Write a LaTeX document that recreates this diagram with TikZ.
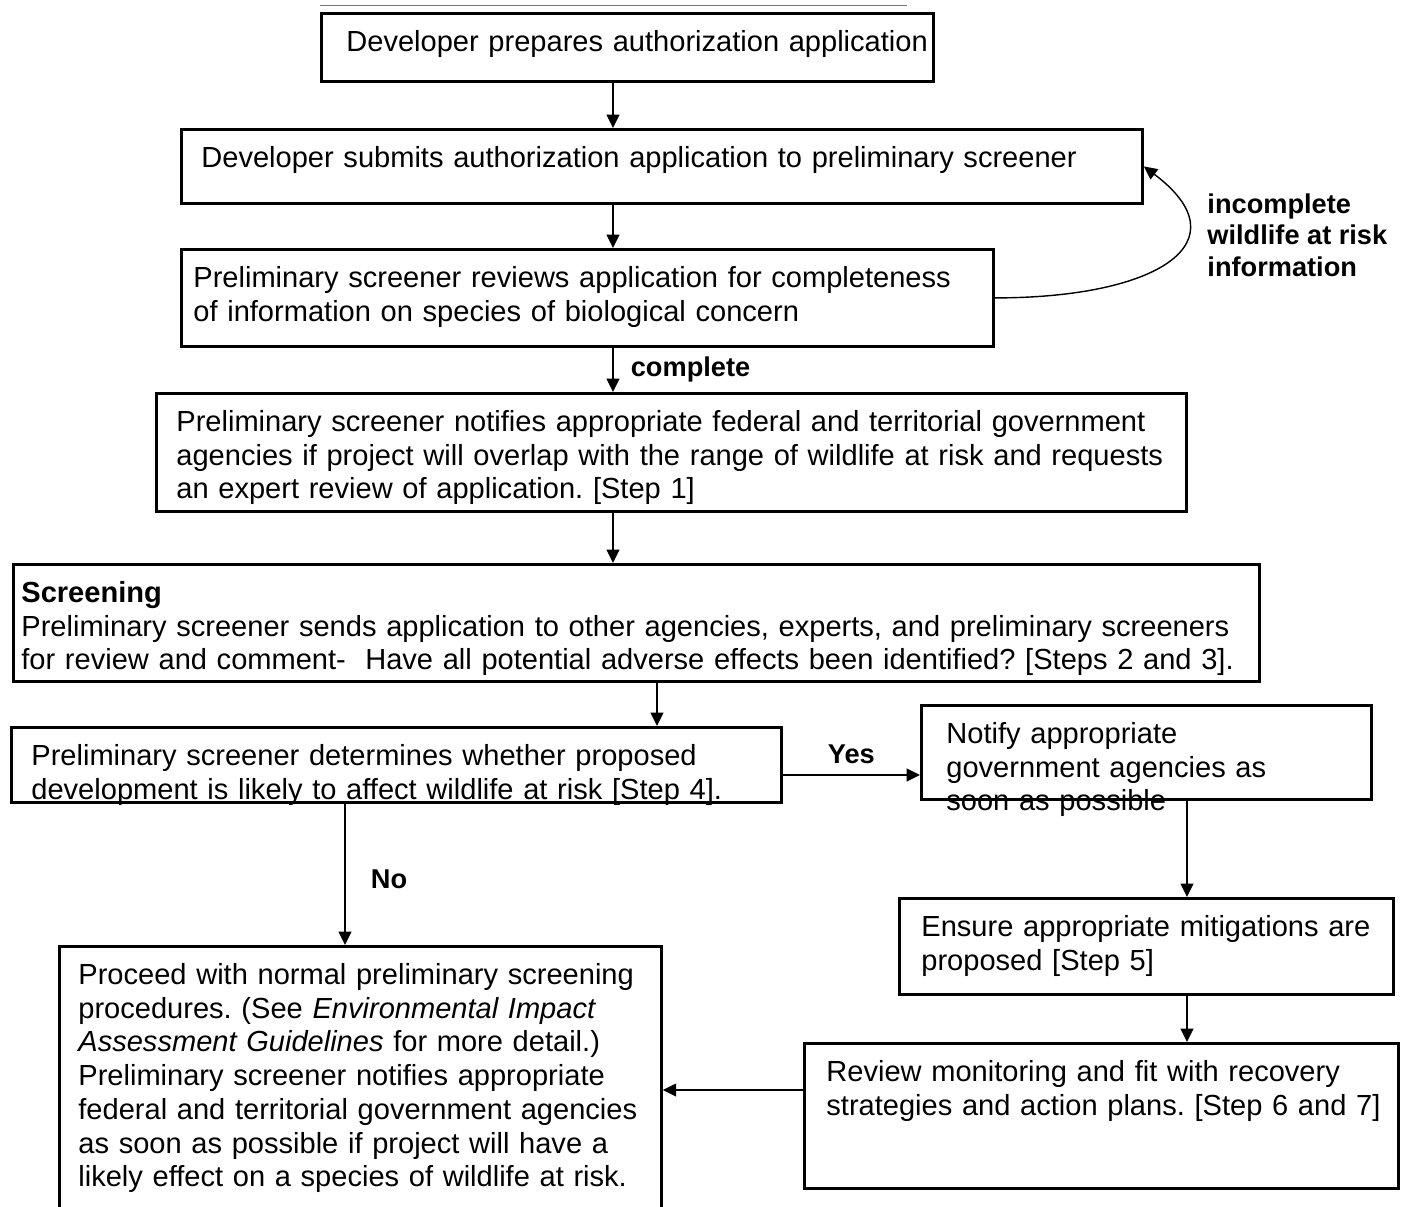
\documentclass[tikz,border=0pt]{standalone}
\usepackage{fontspec}
\setmainfont{Liberation Sans}
\usetikzlibrary{arrows.meta}
\frenchspacing

\newdimen\pxl
\pxl=0.15mm

\tikzset{
	stepbox/.style n args={3}{draw, line width=1.2pt, anchor=north west,
		align=left, inner sep=0pt, text width=#1*\pxl,
		/utils/exec={\pgfmathsetlengthmacro\boxdepth{(#2-38)*\pxl}},
		text height=5.7mm, text depth=\boxdepth,
		execute at begin node={\leftskip=#3\pxl}},
	flow/.style={->, line width=0.75pt},
	lbl/.style={inner sep=0pt, font=\fontsize{11.6pt}{13.4pt}\selectfont\bfseries}
}

\begin{document}
\begin{tikzpicture}[x=0.15mm, y=-0.15mm, >={Triangle[length=2mm,width=1.9mm]},
	font=\fontsize{12.4pt}{14.4pt}\selectfont]
			
			\useasboundingbox[fill=white] (0,0) rectangle (1413,1207);
			
			% columns and rows the connectors run along
			\coordinate (colA) at (613,0);
			\coordinate (colB) at (657,0);
			\coordinate (colNo) at (345,0);
			\coordinate (colR) at (1187,0);
			\coordinate (rowYes) at (0,775);
			\coordinate (rowBack) at (0,1090);
			
			\node[stepbox={612}{68}{25}] (prep) at (320,12)
			{Developer prepares authorization application};
			
			\node[stepbox={961}{74}{20}] (submit) at (180,128)
			{Developer submits authorization application to preliminary screener};
			
			\node[stepbox={812}{97}{12}] (review) at (180,248)
			{Preliminary screener reviews application for completeness\\
				of information on species of biological concern};
			
			\node[stepbox={1030}{118}{20}] (notify) at (155,392)
			{Preliminary screener notifies appropriate federal and territorial government\\
				agencies if project will overlap with the range of wildlife at risk and requests\\
				an expert review of application. [Step 1]};
			
			\node[stepbox={1246}{117}{8}] (screen) at (12,563)
			{\textbf{Screening}\\
				Preliminary screener sends application to other agencies, experts, and preliminary screeners\\
				for review and comment-\ \ Have all potential adverse effects been identified? [Steps 2 and 3].};
			
			\node[stepbox={770}{75}{20}] (decide) at (10,726)
			{Preliminary screener determines whether proposed\\
				development is likely to affect wildlife at risk [Step 4].};
			
			\node[stepbox={450}{94}{25}] (agencies) at (920,704)
			{Notify appropriate\\
				government agencies as\\
				soon as possible};
			
			\node[stepbox={494}{96}{22}] (mitig) at (898,897)
			{Ensure appropriate mitigations are\\
				proposed [Step 5]};
			
			\node[stepbox={594}{145}{22}] (monitor) at (803,1042)
			{Review monitoring and fit with recovery\\
				strategies and action plans. [Step 6 and 7]};
			
			\node[stepbox={602}{300}{19}] (proceed) at (58,945)
			{Proceed with normal preliminary screening\\
				procedures. (See \textit{Environmental Impact}\\
				\textit{Assessment Guidelines} for more detail.)\\
				Preliminary screener notifies appropriate\\
				federal and territorial government agencies\\
				as soon as possible if project will have a\\
				likely effect on a species of wildlife at risk.};
			
			\draw[line width=0.4pt, black!55] ([yshift=7*\pxl]prep.north west) -- ++(587,0);
			
			\draw[flow] (prep.south -| colA)--(submit.north -| colA);
			\draw[flow] (submit.south -| colA)--(review.north -| colA);
			\draw[flow] (review.south -| colA)--node[lbl,anchor=west,xshift=17*\pxl]{complete}(notify.north -| colA);
			\draw[flow] (notify.south -| colA)--(screen.north -| colA);
			\draw[flow] (screen.south -| colB)--(decide.north -| colB);
			\draw[flow] (decide.east |- rowYes)--node[lbl,anchor=south,yshift=10*\pxl]{Yes}(agencies.west |- rowYes);
			\draw[flow] (decide.south -| colNo)--node[lbl,anchor=west,xshift=25*\pxl,yshift=-5*\pxl]{No}(proceed.north -| colNo);
			\draw[flow] (agencies.south -| colR)--(mitig.north -| colR);
			\draw[flow] (mitig.south -| colR)--(monitor.north -| colR);
			\draw[flow] (monitor.west |- rowBack)--(proceed.east |- rowBack);
			
			\draw[->, line width=0.6pt] (review.east) .. controls +(165,0) and +(100,75) .. (submit.east);
			\node[lbl, anchor=west, align=left] (infolbl) at (1207,235)
			{incomplete\\wildlife at risk\\information};
			
		\end{tikzpicture}
\end{document}
